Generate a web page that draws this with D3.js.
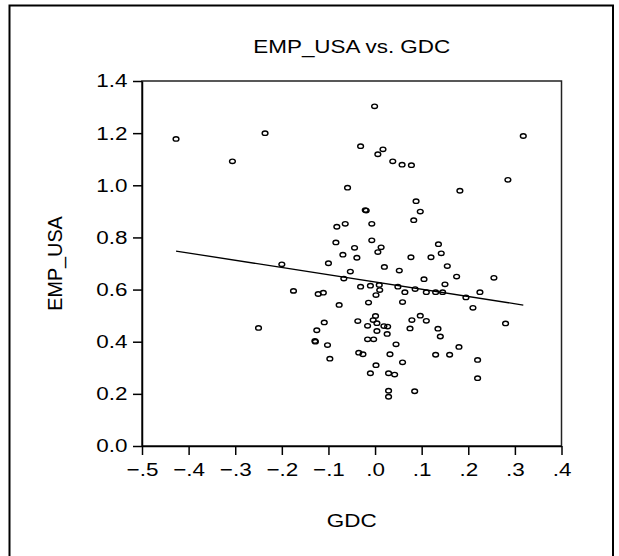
<!DOCTYPE html>
<html><head><meta charset="utf-8">
<script src="https://cdn.jsdelivr.net/npm/d3@7"></script>
<style>body{margin:0;background:#fff}svg{display:block}text{font-family:"Liberation Sans",Arial,sans-serif;fill:#000}</style>
</head><body>
<svg id="c" width="619" height="556"></svg>
<script>
const title = "EMP_USA vs. GDC";
const xLabel = "GDC";
const yLabel = "EMP_USA";
const xTicks = [-0.5,-0.4,-0.3,-0.2,-0.1,0,0.1,0.2,0.3,0.4];
const yTicks = [0,0.2,0.4,0.6,0.8,1.0,1.2,1.4];
const gdc = [-0.427,-0.306,-0.001,-0.236,-0.031,0.017,0.006,0.038,0.058,0.078,0.318,0.285,0.182,-0.059,0.088,0.097,0.083,-0.021,-0.019,-0.082,-0.064,-0.007,-0.084,-0.007,-0.044,0.013,0.006,-0.069,-0.039,0.136,0.142,0.077,0.120,-0.200,-0.100,0.020,0.052,-0.053,-0.067,-0.175,-0.122,-0.111,-0.031,-0.010,0.009,0.010,0.002,0.049,0.064,0.059,-0.014,-0.077,-0.250,-0.109,-0.125,-0.129,-0.128,-0.102,-0.097,-0.037,0.001,-0.004,-0.016,0.004,0.019,0.027,0.004,0.026,-0.016,-0.003,0.045,-0.035,-0.026,0.032,0.059,0.002,-0.010,0.029,0.042,0.029,0.029,0.086,0.079,0.075,0.097,0.110,0.105,0.110,0.130,0.145,0.150,0.155,0.175,0.195,0.210,0.225,0.255,0.280,0.135,0.140,0.130,0.160,0.180,0.220,0.220,0.085];
const empUsa = [1.178,1.092,1.303,1.200,1.150,1.138,1.119,1.092,1.079,1.077,1.189,1.021,0.979,0.991,0.939,0.899,0.866,0.905,0.903,0.841,0.852,0.852,0.781,0.789,0.760,0.762,0.744,0.734,0.722,0.774,0.739,0.724,0.724,0.697,0.701,0.687,0.673,0.669,0.642,0.595,0.583,0.588,0.611,0.615,0.618,0.598,0.579,0.611,0.590,0.552,0.550,0.541,0.453,0.474,0.444,0.403,0.400,0.387,0.335,0.479,0.499,0.483,0.461,0.471,0.460,0.458,0.441,0.430,0.409,0.409,0.390,0.358,0.352,0.352,0.321,0.310,0.279,0.279,0.274,0.212,0.189,0.602,0.483,0.451,0.500,0.480,0.640,0.590,0.590,0.590,0.620,0.690,0.650,0.570,0.530,0.590,0.645,0.470,0.450,0.420,0.350,0.350,0.380,0.330,0.260,0.210];
const fitIntercept = 0.629, fitSlope = -0.278;

const svg = d3.select("#c");
svg.append("rect").attr("x",9.5).attr("y",5.5).attr("width",603.5).attr("height",560)
  .attr("fill","none").attr("stroke","#000").attr("stroke-width",2);

const x = d3.scaleLinear().domain([-0.5,0.4]).range([142,561.5]);
const y = d3.scaleLinear().domain([0,1.4]).range([446,81]);
const fs = 18.7, sx = 1.2;

svg.append("rect").attr("x",x(-0.5)).attr("y",y(1.4)).attr("width",x(0.4)-x(-0.5)).attr("height",y(0)-y(1.4))
  .attr("fill","none").attr("stroke","#222").attr("stroke-width",1.5);

const fx = d => d3.format(".1f")(d).replace("0.",".");
const gx = svg.append("g").attr("transform",`translate(0,${y(0)})`)
  .call(d3.axisBottom(x).tickValues(xTicks).tickFormat(fx).tickSize(9).tickSizeOuter(0).tickPadding(8));
const gy = svg.append("g").attr("transform",`translate(${x(-0.5)},0)`)
  .call(d3.axisLeft(y).tickValues(yTicks).tickFormat(d3.format(".1f")).tickSize(9).tickSizeOuter(0).tickPadding(5.5));
[gx,gy].forEach(g=>{
  g.select(".domain").attr("stroke","#000").attr("stroke-width",1.5);
  g.selectAll(".tick line").attr("stroke","#000").attr("stroke-width",1.5);
  g.selectAll(".tick text").attr("font-size",fs).attr("font-family","Liberation Sans, Arial, sans-serif").attr("fill","#000")
    .attr("transform", function(){ const x0 = +d3.select(this).attr("x") || 0; return `translate(${x0},0) scale(${sx},1) translate(${-x0},0)`; });
});

const cx = (x(-0.5)+x(0.4))/2;
svg.append("text").attr("transform",`translate(${cx},53) scale(${sx},1)`).attr("text-anchor","middle").attr("font-size",fs).text(title);
svg.append("text").attr("transform",`translate(${cx},527) scale(${sx},1)`).attr("text-anchor","middle").attr("font-size",fs).text(xLabel);
svg.append("text").attr("transform",`translate(61.5,${(y(0)+y(1.4))/2}) scale(1.05,1) rotate(-90)`).attr("text-anchor","middle").attr("font-size",19.8).text(yLabel);

const xe = d3.extent(gdc);
svg.append("line").attr("x1",x(xe[0])).attr("y1",y(fitIntercept+fitSlope*xe[0]))
  .attr("x2",x(xe[1])).attr("y2",y(fitIntercept+fitSlope*xe[1]))
  .attr("stroke","#000").attr("stroke-width",1.3);

svg.append("g").selectAll("ellipse").data(gdc.map((g,i)=>[g,empUsa[i]])).join("ellipse")
  .attr("cx",d=>x(d[0])).attr("cy",d=>y(d[1])).attr("rx",2.9).attr("ry",2.2)
  .attr("fill","none").attr("stroke","#000").attr("stroke-width",1.4);
</script>
</body></html>
